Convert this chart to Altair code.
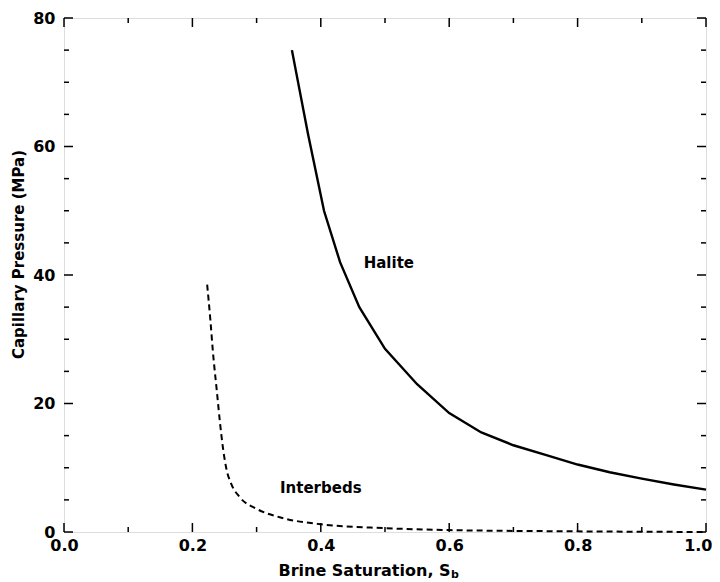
import altair as alt
import pandas as pd

# Halite capillary pressure curve (brine saturation, MPa)
halite_s = [0.355, 0.38, 0.405, 0.43, 0.46, 0.50, 0.55, 0.60, 0.65, 0.70, 0.75, 0.80, 0.85, 0.90, 0.95, 1.00]
halite_pc = [75.0, 62.0, 50.0, 42.0, 35.0, 28.5, 23.0, 18.5, 15.5, 13.5, 12.0, 10.5, 9.3, 8.3, 7.4, 6.6]

# Interbeds capillary pressure curve
inter_s = [0.223, 0.228, 0.232, 0.238, 0.243, 0.248, 0.253, 0.260, 0.274, 0.300, 0.336, 0.400, 0.500, 0.600, 0.800, 1.000]
inter_pc = [38.5, 33.0, 28.0, 22.0, 17.0, 12.8, 9.8, 7.6, 5.4, 3.6, 2.3, 1.2, 0.6, 0.3, 0.1, 0.0]

# Annotation labels
label_text = ["Halite", "Interbeds"]
label_s = [0.506, 0.40]
label_pc = [41.9, 6.8]

# Tick positions
x_major = [0.0, 0.2, 0.4, 0.6, 0.8, 1.0]
x_minor = [0.1, 0.3, 0.5, 0.7, 0.9]
y_major = [0, 20, 40, 60, 80]
y_minor = [5, 10, 15, 25, 30, 35, 45, 50, 55, 65, 70, 75]

W, H = 642, 514
FONT = "DejaVu Sans"

halite = pd.DataFrame({"s": halite_s, "pc": halite_pc})
inter = pd.DataFrame({"s": inter_s, "pc": inter_pc})
labels = pd.DataFrame({"text": label_text, "s": label_s, "pc": label_pc})

xs = alt.Scale(domain=[0, 1], nice=False, zero=False)
ys = alt.Scale(domain=[0, 80], nice=False)

base_x = alt.X("s:Q", scale=xs, axis=alt.Axis(
    values=x_major, format=".1f", ticks=False, grid=False, domain=False,
    labelFont=FONT, labelFontWeight="bold", labelFontSize=16, labelColor="black",
    labelPadding=5, labelFlush=False,
    labelAlign={"condition": {"test": "datum.value == 1", "value": "right"}, "value": "center"},
    labelOffset={"condition": {"test": "datum.value == 1", "value": 6}, "value": 0},
    title="Brine Saturation, S", titleFont=FONT, titleFontWeight="bold", titleFontSize=16,
    titleColor="black", titleX=300, titleY=38, titleBaseline="middle", titleAlign="center"))
base_y = alt.Y("pc:Q", scale=ys, axis=alt.Axis(
    values=y_major, ticks=False, grid=False, domain=False,
    labelFont=FONT, labelFontWeight="bold", labelFontSize=16, labelColor="black",
    labelPadding=9, labelFlush=False,
    title="Capillary Pressure (MPa)", titleFont=FONT, titleFontWeight="bold", titleFontSize=15,
    titleColor="black", titleX=-46, titleY=236, titleAngle=-90, titleAlign="center",
    titleBaseline="middle"))

halite_line = alt.Chart(halite).mark_line(color="black", strokeWidth=2.4).encode(x=base_x, y=base_y)
inter_line = alt.Chart(inter).mark_line(color="black", strokeWidth=2.0, strokeDash=[6, 4],
                                        interpolate="monotone").encode(
    x=alt.X("s:Q", scale=xs), y=alt.Y("pc:Q", scale=ys))

text = alt.Chart(labels).mark_text(font=FONT, fontWeight="bold", fontSize=15, color="black").encode(
    x=alt.X("s:Q", scale=xs), y=alt.Y("pc:Q", scale=ys), text="text:N")

sub = alt.Chart(pd.DataFrame({"t": ["b"]})).mark_text(
    font=FONT, fontWeight="bold", fontSize=11, color="black", align="left", baseline="middle").encode(
    x=alt.value(387), y=alt.value(557), text="t:N")


def xticks(vals, length, top):
    df = pd.DataFrame({"s": vals})
    if top:
        return alt.Chart(df).mark_rule(color="black", strokeWidth=1.5).encode(
            x=alt.X("s:Q", scale=xs), y=alt.value(0), y2=alt.value(length))
    return alt.Chart(df).mark_rule(color="black", strokeWidth=1.5).encode(
        x=alt.X("s:Q", scale=xs), y=alt.value(H), y2=alt.value(H - length))


def yticks(vals, length, right):
    df = pd.DataFrame({"pc": vals})
    if right:
        return alt.Chart(df).mark_rule(color="black", strokeWidth=1.5).encode(
            y=alt.Y("pc:Q", scale=ys), x=alt.value(W), x2=alt.value(W - length))
    return alt.Chart(df).mark_rule(color="black", strokeWidth=1.5).encode(
        y=alt.Y("pc:Q", scale=ys), x=alt.value(0), x2=alt.value(length))


tick_layers = [
    xticks(x_major, 9, False), xticks(x_minor, 5, False),
    xticks(x_major, 9, True), xticks(x_minor, 5, True),
    yticks(y_major, 9, False), yticks(y_minor, 5, False),
    yticks(y_major, 9, True), yticks(y_minor, 5, True),
]

chart = alt.layer(halite_line, inter_line, text, sub, *tick_layers).properties(
    width=W, height=H,
    autosize=alt.AutoSizeParams(type="none"),
    padding={"left": 56, "top": 10, "right": 6, "bottom": 48},
).configure_view(stroke="black", strokeWidth=2.2).configure(background="white")

chart.save("out.html", embed_options={"renderer": "svg", "actions": False})
